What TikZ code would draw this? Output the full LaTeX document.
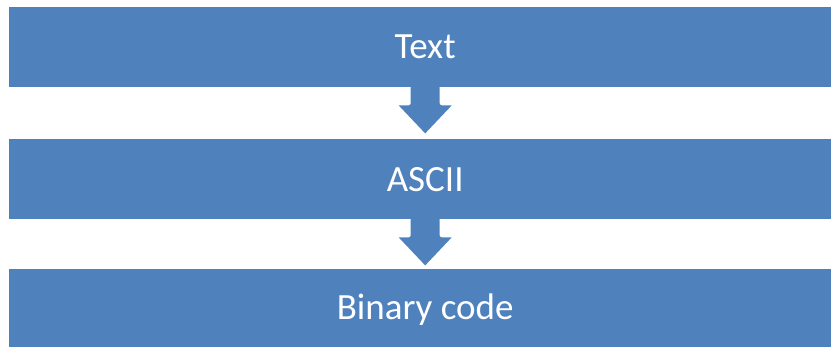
\documentclass[tikz,border=0pt]{standalone}
\usepackage{fontspec}
\setmainfont{Carlito}
\usetikzlibrary{calc}
\definecolor{barblue}{HTML}{4F81BD}
\begin{document}
\begin{tikzpicture}[x=1pt,y=-1pt,
  bar/.style={fill=barblue, draw=none, minimum width=832pt, minimum height=80pt,
    inner sep=0pt, text=white, font=\fontsize{37}{40}\selectfont, anchor=north west}]
\useasboundingbox (0,0) rectangle (831,347);
\node[bar] (text)   at (9,7)   {Text};
\node[bar] (ascii)  at (9,139) {ASCII};
\node[bar] (binary) at (9,269) {Binary code};
% block arrows between consecutive bars
\foreach \a/\b in {text/ascii, ascii/binary}{
  \coordinate (top) at (\a.south);
  \fill[barblue, rounded corners=2pt]
    ($(top)+(-14.5,-2)$) -- ($(top)+(-14.5,18)$) [sharp corners]
    -- ($(top)+(-26.5,18)$) -- ($(top)+(0,46)$) -- ($(top)+(26.5,18)$)
    [rounded corners=2pt] -- ($(top)+(14.5,18)$) -- ($(top)+(14.5,-2)$) -- cycle;
}
\end{tikzpicture}
\end{document}
